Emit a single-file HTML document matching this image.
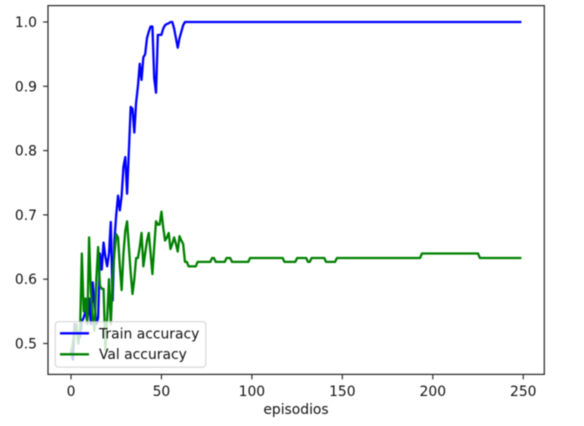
<!DOCTYPE html>
<html>
<head>
<meta charset="utf-8">
<style>
html,body{margin:0;padding:0;background:#fff;width:584px;height:426px;overflow:hidden}
svg{display:block;font-family:"DejaVu Sans","Liberation Sans",sans-serif;filter:blur(0.5px)}
</style>
</head>
<body>
<svg id="chart" width="584" height="426" viewBox="0 0 584 426" xmlns="http://www.w3.org/2000/svg">
<rect x="0" y="0" width="584" height="426" fill="#ffffff"/>
<g id="ticks"></g>
<path id="train-line" fill="none" stroke="#0000ff" stroke-width="2.3" stroke-linejoin="round"/>
<path id="val-line" fill="none" stroke="#008000" stroke-width="2.3" stroke-linejoin="round"/>
<rect x="48" y="5.6" width="496.3" height="368.8" fill="none" stroke="#222222" stroke-width="1.2"/>
<text x="296" y="414" font-size="13.89" text-anchor="middle" fill="#111111">episodios</text>
<g>
<rect x="55.3" y="321.7" width="150.5" height="45.5" rx="3" fill="#ffffff" fill-opacity="0.8" stroke="#cccccc" stroke-opacity="0.8" stroke-width="1.11"/>
<line x1="60" y1="333.3" x2="89" y2="333.3" stroke="#0000ff" stroke-width="2.3"/>
<text x="99" y="338.3" font-size="13.89" fill="#111111">Train accuracy</text>
<line x1="60" y1="354.3" x2="89" y2="354.3" stroke="#008000" stroke-width="2.3"/>
<text x="99" y="359" font-size="13.89" fill="#111111">Val accuracy</text>
</g>
</svg>
<script>
const trainAccuracy = [
.49,.475,.53,.52,.515,.51,.535,.54,.55,.535,.57,.53,.595,.56,.53,.54,.64,.615,.657,.635,
.62,.64,.689,.567,.66,.70,.73,.707,.73,.775,.79,.733,.80,.868,.865,.828,.875,.90,.935,.91,
.945,.95,.975,.985,.993,.993,.913,.89,.98,.98,.98,.99,.995,.997,.998,1,1,.99,.975,.96,
.975,.985,.995,1,1,1,1,1,1,1,1,1,1,1,1,1,1,1,1,1,
1,1,1,1,1,1,1,1,1,1,1,1,1,1,1,1,1,1,1,1,
1,1,1,1,1,1,1,1,1,1,1,1,1,1,1,1,1,1,1,1,
1,1,1,1,1,1,1,1,1,1,1,1,1,1,1,1,1,1,1,1,
1,1,1,1,1,1,1,1,1,1,1,1,1,1,1,1,1,1,1,1,
1,1,1,1,1,1,1,1,1,1,1,1,1,1,1,1,1,1,1,1,
1,1,1,1,1,1,1,1,1,1,1,1,1,1,1,1,1,1,1,1,
1,1,1,1,1,1,1,1,1,1,1,1,1,1,1,1,1,1,1,1,
1,1,1,1,1,1,1,1,1,1,1,1,1,1,1,1,1,1,1,1,
1,1,1,1,1,1,1,1,1,1
];
const valAccuracy = [
.485,.50,.52,.53,.50,.52,.64,.55,.57,.53,.665,.58,.54,.52,.60,.65,.59,.585,.585,.49,
.54,.60,.53,.60,.64,.67,.665,.62,.583,.64,.675,.69,.65,.61,.577,.60,.633,.633,.65,.672,
.62,.64,.66,.672,.64,.608,.65,.69,.685,.685,.705,.68,.66,.665,.672,.647,.655,.665,.655,.643,
.667,.66,.655,.627,.627,.62,.62,.62,.62,.62,
.627,.627,.627,.627,.627,.627,.627,.627,.633,.633,
.627,.627,.627,.627,.627,.627,.633,.633,.633,
.627,.627,.627,.627,.627,.627,.627,.627,.627,.627,
.633,.633,.633,.633,.633,.633,.633,.633,.633,.633,.633,.633,.633,.633,.633,.633,.633,.633,.633,
.627,.627,.627,.627,.627,.627,.627,
.633,.633,.633,.633,.633,.633,
.627,.627,
.633,.633,.633,.633,.633,.633,.633,.633,
.627,.627,.627,.627,.627,.627,
.633,.633,.633,.633,.633,.633,.633,.633,.633,.633,.633,.633,.633,.633,.633,.633,.633,.633,.633,.633,
.633,.633,.633,.633,.633,.633,.633,.633,.633,.633,.633,.633,.633,.633,.633,.633,.633,.633,.633,.633,
.633,.633,.633,.633,.633,.633,.633,
.64,.64,.64,.64,.64,.64,.64,.64,.64,.64,.64,.64,.64,.64,.64,.64,
.64,.64,.64,.64,.64,.64,.64,.64,.64,.64,.64,.64,.64,.64,.64,.64,
.633,.633,.633,.633,.633,.633,.633,.633,.633,.633,.633,.633,
.633,.633,.633,.633,.633,.633,.633,.633,.633,.633,.633,.633
];
const xTickValues = [0, 50, 100, 150, 200, 250];
const yTickValues = [0.5, 0.6, 0.7, 0.8, 0.9, 1.0];

const svgNS = 'http://www.w3.org/2000/svg';
function xScale(v) { return 71 + v * 1.809; }
function yScale(v) { return 22 + (1 - v) * 643; }
function linePath(values) {
  return values.map(function (v, i) {
    return (i ? 'L' : 'M') + xScale(i).toFixed(2) + ' ' + yScale(v).toFixed(2);
  }).join('');
}
document.getElementById('train-line').setAttribute('d', linePath(trainAccuracy));
document.getElementById('val-line').setAttribute('d', linePath(valAccuracy));

const tickGroup = document.getElementById('ticks');
function makeTick(x1, y1, x2, y2) {
  const t = document.createElementNS(svgNS, 'line');
  t.setAttribute('x1', x1);
  t.setAttribute('y1', y1);
  t.setAttribute('x2', x2);
  t.setAttribute('y2', y2);
  t.setAttribute('stroke', '#222222');
  t.setAttribute('stroke-width', '1.11');
  tickGroup.appendChild(t);
  return t;
}
function makeLabel(x, y, anchor, str) {
  const l = document.createElementNS(svgNS, 'text');
  l.setAttribute('x', x);
  l.setAttribute('y', y);
  l.setAttribute('text-anchor', anchor);
  l.setAttribute('font-size', '13.89');
  l.setAttribute('fill', '#111111');
  l.textContent = str;
  tickGroup.appendChild(l);
  return l;
}
xTickValues.forEach(function (v) {
  const x = xScale(v);
  const tick = makeTick(x, 374.5, x, 379.4);
  
  
  const label = makeLabel(x, 396, 'middle', String(v));
  
  
});
yTickValues.forEach(function (v) {
  const y = yScale(v);
  const tick = makeTick(48, y, 43.1, y);
  
  
  const label = makeLabel(37, y + 5, 'end', v.toFixed(1));
  
  
});
</script>
</body>
</html>
